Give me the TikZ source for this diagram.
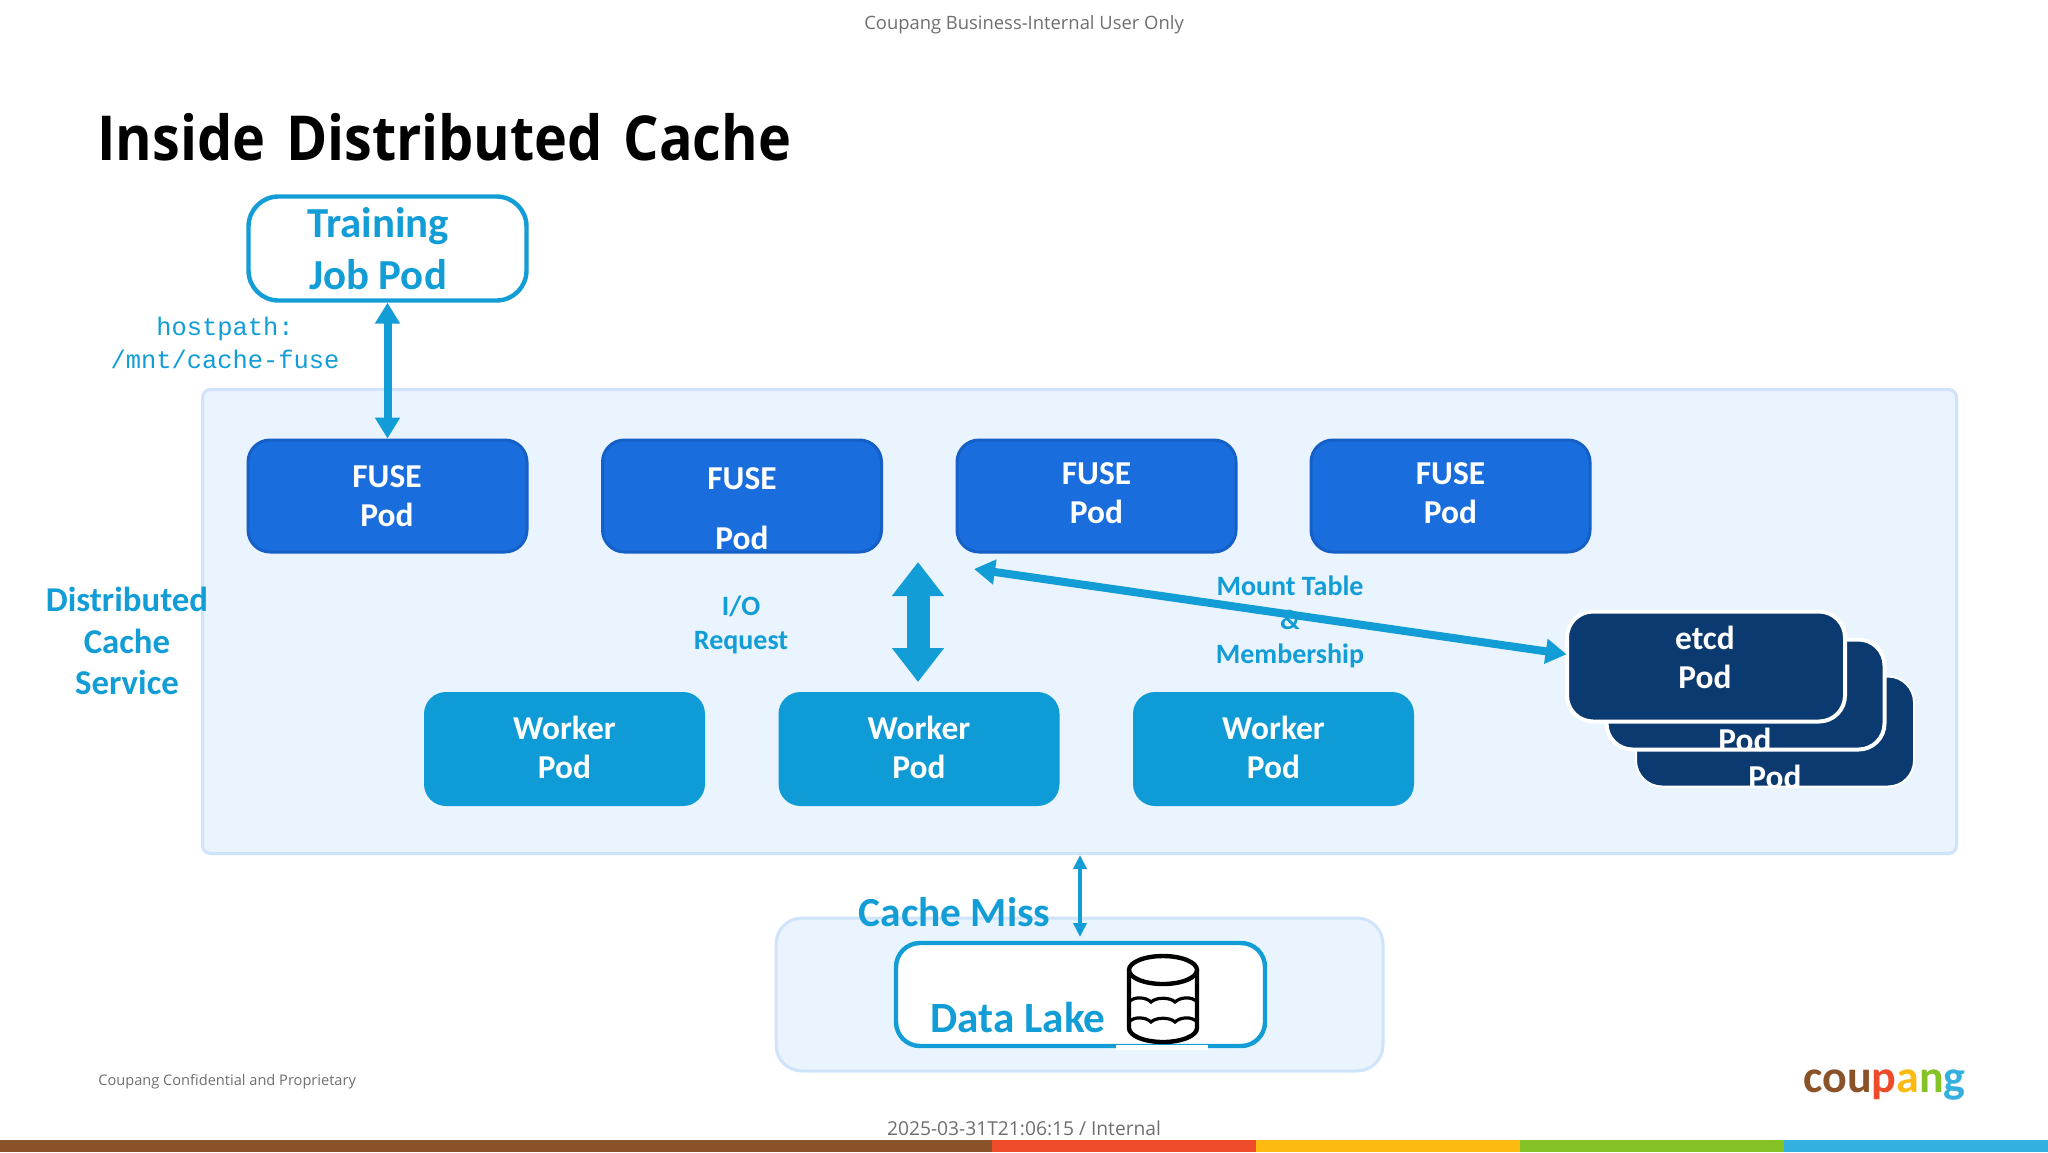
\documentclass[tikz,border=0pt]{standalone}
\usepackage{fontspec}
\setmainfont{Carlito}
\newfontfamily\titlefont[FakeStretch=0.9]{Open Sans}
\newfontfamily\footfont{Open Sans}
\setmonofont{Liberation Mono}
\usepackage{tikz}
\usetikzlibrary{arrows.meta}

\definecolor{accent}{HTML}{129DD6}
\definecolor{workerblue}{HTML}{0F9BD6}
\definecolor{fuseblue}{HTML}{1A6DDD}
\definecolor{fuseedge}{HTML}{1560C6}
\definecolor{etcdblue}{HTML}{0B3A70}
\definecolor{panelfill}{HTML}{EAF4FE}
\definecolor{paneledge}{HTML}{CFE3FA}
\definecolor{footgray}{HTML}{6E6E6E}
\definecolor{stripebrown}{HTML}{8A5229}
\definecolor{stripered}{HTML}{EE4B2B}
\definecolor{stripeyellow}{HTML}{FDBB11}
\definecolor{stripegreen}{HTML}{84C225}
\definecolor{stripeblue}{HTML}{34B0E0}

\tikzset{
	panel/.style={draw=paneledge,fill=panelfill,line width=1.5pt},
	podbox/.style={minimum width=140.5pt,minimum height=57pt,rounded corners=11pt,inner sep=0pt},
	fusepod/.style={podbox,minimum width=139.5pt,minimum height=56pt,draw=fuseedge,fill=fuseblue,line width=1.5pt},
	workerpod/.style={podbox,fill=workerblue},
	etcdpod/.style={minimum width=139pt,minimum height=55pt,rounded corners=13pt,fill=etcdblue},
	etcdring/.style={minimum width=139pt,minimum height=55pt,rounded corners=13pt,draw=white,line width=2pt},
	podtext/.style={text=white,align=center,inner sep=0pt,font=\fontsize{16.7}{19.5}\selectfont\bfseries},
	bluetext/.style={text=accent,align=center,inner sep=0pt,font=\fontsize{14}{17}\selectfont\bfseries},
	foot/.style={text=footgray,inner sep=0pt},
	link/.style={draw=accent,line width=4pt,{Triangle[length=10.5pt,width=12pt]}-{Triangle[length=10.5pt,width=12pt]}},
}

\begin{document}
\begin{tikzpicture}[x=0.5pt,y=-0.5pt]
	\useasboundingbox (0,0) rectangle (2048,1152);

	% footer stripes
	\fill[stripebrown] (0,1140) rectangle (992,1152);
	\fill[stripered] (992,1140) rectangle (1256,1152);
	\fill[stripeyellow] (1256,1140) rectangle (1520,1152);
	\fill[stripegreen] (1520,1140) rectangle (1784,1152);
	\fill[stripeblue] (1784,1140) rectangle (2048,1152);

	\node[foot,font=\footfont\fontsize{9.2}{11}\selectfont] (header) at (1024,25) {Coupang Business-Internal User Only};
	\node[foot,anchor=west,font=\footfont\fontsize{7.3}{9}\selectfont] (confidential) at (98,1082) {Coupang Confidential and Proprietary};
	\node[foot,font=\footfont\fontsize{9.6}{11}\selectfont] (stamp) at (1024,1128) {2025-03-31T21:06:15 / Internal};
	\node[anchor=base west,inner sep=0pt,font=\titlefont\fontsize{31}{36}\selectfont\bfseries,text=black] (title) at (97,160) {Inside\hspace{3pt} Distributed\hspace{3pt} Cache};

	% service panel
	\node[panel,minimum width=877pt,minimum height=232pt,rounded corners=4pt] (service) at (1079.5,621.5) {};
	\node[bluetext,font=\fontsize{17.4}{20.8}\selectfont\bfseries] (servicetext) at (127,641) {Distributed\\Cache\\Service};

	% training job
	\node[draw=accent,fill=white,line width=2.2pt,minimum width=139pt,minimum height=52pt,rounded corners=15pt] (job) at (387.5,248.5) {};
	\node[bluetext,font=\fontsize{21.4}{26}\selectfont\bfseries] (jobtext) at (378,249) {Training\\Job Pod};
	\node[text=accent,align=center,inner sep=0pt,font=\ttfamily\fontsize{12.7}{16.5}\selectfont] (hostpath) at (225,343) {hostpath:\\/mnt/cache-fuse};

	% fuse pods
	\node[fusepod] (fuse1) at (387.5,496) {};
	\node[fusepod] (fuse2) at (742,496) {};
	\node[fusepod] (fuse3) at (1096.5,496) {};
	\node[fusepod] (fuse4) at (1450.5,496) {};
	\node[podtext] (fuse1text) at (387,496) {FUSE\\Pod};
	\node[podtext,font=\fontsize{16.7}{30}\selectfont\bfseries] (fuse2text) at (742,508.5) {FUSE\\Pod};
	\node[podtext] (fuse3text) at (1096.5,493.5) {FUSE\\Pod};
	\node[podtext] (fuse4text) at (1450.5,493.5) {FUSE\\Pod};

	% worker pods
	\node[workerpod] (worker1) at (564.5,749) {};
	\node[workerpod] (worker2) at (919,749) {};
	\node[workerpod] (worker3) at (1273.5,749) {};
	\node[podtext] (worker1text) at (564.5,747.5) {Worker\\Pod};
	\node[podtext] (worker2text) at (919,747.5) {Worker\\Pod};
	\node[podtext] (worker3text) at (1273.5,747.5) {Worker\\Pod};

	% etcd stack, back to front
	\node[etcdpod] (etcd3) at (1775,731.5) {};
	\node[podtext] (etcd3text) at (1775,777) {Pod};
	\node[etcdring,draw=white,line width=1pt] (etcd3ring) at (etcd3) {};
	\node[etcdpod] (etcd2) at (1745.5,694.5) {};
	\node[podtext] (etcd2text) at (1745,740) {Pod};
	\node[etcdring] (etcd2ring) at (etcd2) {};
	\node[etcdpod,fill=etcdblue] (etcd1) at (1706,666.5) {};
	\node[etcdring] (etcd1ring) at (etcd1) {};
	\node[podtext] (etcd1text) at (1705,657) {etcd\\Pod};

	\node[bluetext] (iotext) at (741,625) {I/O\\Request};
	\node[bluetext] (mounttext) at (1290,622) {Mount Table\\\&\\Membership};

	\coordinate (iotop) at (918,562);
	\coordinate (iobottom) at (918,682);
	\coordinate (mounthead) at (974,569);
	\coordinate (lakehead) at (1080,937);

	\draw[link] (job.south) -- (fuse1.north);
	\draw[draw=accent,line width=11.5pt,{Triangle[length=17pt,width=25pt]}-{Triangle[length=17pt,width=25pt]}] (iotop) -- (iobottom);
	\draw[link] (mounthead) -- (etcd1.175);

	% data lake
	\node[panel,minimum width=303.5pt,minimum height=76.5pt,rounded corners=13pt] (lakepanel) at (1079.5,994.5) {};
	\node[draw=accent,fill=white,line width=2.2pt,minimum width=184.5pt,minimum height=51.5pt,rounded corners=12pt] (lake) at (1080.5,994.5) {};
	\fill[white] (1116,1045) rectangle (1208,1050);
	\node[bluetext,font=\fontsize{21.6}{24}\selectfont\bfseries] (laketext) at (1018,1017) {Data Lake};
	\node[bluetext,font=\fontsize{20.7}{24}\selectfont\bfseries] (misstext) at (954.5,912) {Cache Miss};
	\draw[draw=accent,line width=1.8pt,{Triangle[length=7pt,width=6.5pt]}-{Triangle[length=7pt,width=6.5pt]}] (service.south -| lakehead) -- (lakehead);

	% cylinder
	\draw[line width=2.2pt,black] (1129,970) -- (1129,1028) arc[start angle=180,end angle=0,x radius=34,y radius=14] -- (1197,970);
	\draw[line width=2.2pt,black] (1163,970) ellipse[x radius=34,y radius=14];
	\draw[line width=1.6pt,black] (1129,1002) .. controls (1134,996) and (1146,997) .. (1151,1002) .. controls (1156,997) and (1170,997) .. (1175,1002) .. controls (1180,997) and (1192,996) .. (1197,1002);
	\draw[line width=1.6pt,black] (1129,1022) .. controls (1134,1016) and (1146,1017) .. (1151,1022) .. controls (1156,1017) and (1170,1017) .. (1175,1022) .. controls (1180,1017) and (1192,1016) .. (1197,1022);

	% logo
	\node[anchor=base west,inner sep=0pt,font=\fontsize{23}{28}\selectfont\bfseries] (logo) at (1803,1092) {\textcolor{stripebrown}{cou}\textcolor{stripered}{p}\textcolor{stripeyellow}{a}\textcolor{stripegreen}{n}\textcolor{stripeblue}{g}};
\end{tikzpicture}
\end{document}
